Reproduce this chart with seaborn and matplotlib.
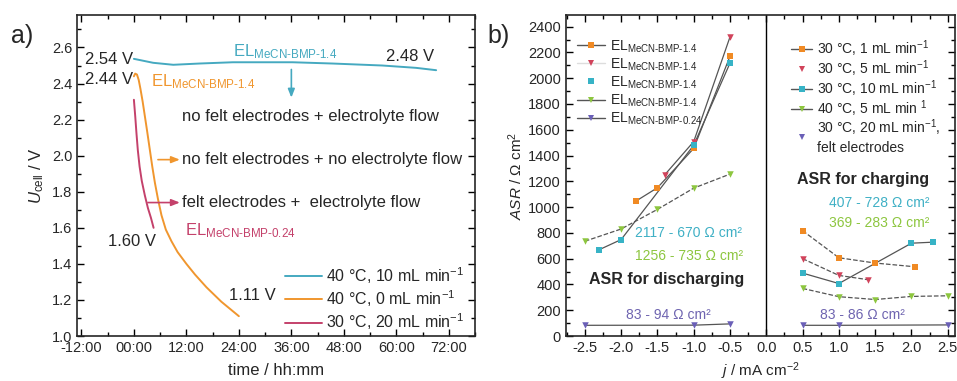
import numpy as np
import pandas as pd
import matplotlib
matplotlib.use("Agg")
import matplotlib.pyplot as plt
from matplotlib.lines import Line2D
from matplotlib.ticker import MultipleLocator, FixedLocator, FixedFormatter
import seaborn as sns

# ---------------- data (a) ----------------
t_cyan = [0, 4.4, 9, 15, 22.6, 36.3, 45.4, 56.8, 64.5, 69.1]
u_cyan = [2.537, 2.515, 2.504, 2.511, 2.518, 2.518, 2.511, 2.50, 2.487, 2.474]
t_orange = [0, 0.3, 0.7, 1.1, 1.5, 2.0, 2.5, 3.0, 3.6, 4.2, 4.8, 5.5, 6.3, 7.3, 8.6, 10, 12, 14, 16.6, 20, 22, 24]
u_orange = [2.44, 2.455, 2.45, 2.42, 2.37, 2.30, 2.22, 2.14, 2.04, 1.94, 1.85, 1.76, 1.67, 1.59, 1.525,
            1.465, 1.40, 1.34, 1.27, 1.19, 1.15, 1.11]
t_mag = [0, 0.3, 0.6, 0.9, 1.3, 1.8, 2.5, 3.2, 3.9, 4.5]
u_mag = [2.31, 2.22, 2.12, 2.03, 1.94, 1.86, 1.78, 1.71, 1.655, 1.60]
time_ticks = [-12, 0, 12, 24, 36, 48, 60, 72]
time_labels = ["-12:00", "00:00", "12:00", "24:00", "36:00", "48:00", "60:00", "72:00"]
legend_a = ["40 °C, 10 mL min$^{-1}$", "40 °C, 0 mL min$^{-1}$", "30 °C, 20 mL min$^{-1}$"]

# ---------------- data (b) ----------------
j_or_d = [-1.8, -1.5, -1.0, -0.5]; a_or_d = [1045, 1150, 1455, 2170]
j_or_c = [0.5, 1.0, 1.5, 2.05];   a_or_c = [817, 607, 566, 537]
j_rd_d = [-1.4, -1.0, -0.5];      a_rd_d = [1250, 1508, 2320]
j_rd_c = [0.5, 1.0, 1.4];         a_rd_c = [600, 470, 437]
j_cy_d = [-2.3, -2.0, -1.0, -0.5]; a_cy_d = [670, 748, 1480, 2117]
j_cy_c = [0.5, 1.0, 2.0, 2.3];     a_cy_c = [488, 407, 720, 728]
j_gr_d = [-2.5, -2.0, -1.5, -1.0, -0.5]; a_gr_d = [735, 830, 982, 1147, 1256]
j_gr_c = [0.5, 1.0, 1.5, 2.0, 2.5];      a_gr_c = [369, 305, 283, 307, 312]
j_pu_d = [-2.5, -1.0, -0.5]; a_pu_d = [83, 84, 94]
j_pu_c = [0.5, 1.0, 2.5];    a_pu_c = [83, 83, 86]
legend_b1 = ["EL$_{\\mathrm{MeCN‐BMP‐1.4}}$"] * 4 + ["EL$_{\\mathrm{MeCN‐BMP‐0.24}}$"]
legend_b2 = ["30 °C, 1 mL min$^{-1}$", "30 °C, 5 mL min$^{-1}$", "30 °C, 10 mL min$^{-1}$",
             "40 °C, 5 mL min $^{1}$", "30 °C, 20 mL min$^{-1}$,\nfelt electrodes"]

# ---------------- style ----------------
sns.set_style("ticks")
plt.rcParams["font.family"] = ["Liberation Sans", "DejaVu Sans"]
plt.rcParams["mathtext.fontset"] = "custom"
plt.rcParams["mathtext.rm"] = "Liberation Sans"
plt.rcParams["mathtext.it"] = "Liberation Sans:italic"
plt.rcParams["mathtext.bf"] = "Liberation Sans:bold"
plt.rcParams["axes.linewidth"] = 1.2

C_CY = "#45a9c0"; C_OR = "#f0962e"; C_MG = "#c4416b"
R_OR = "#f08a24"; R_RD = "#d1435b"; R_CY = "#37b3c6"; R_GR = "#8dc63f"; R_PU = "#6a5fb7"
GREY = "#555555"

fig = plt.figure(figsize=(9.57, 3.81), dpi=100)
axA = fig.add_axes([0.0805, 0.1181, 0.4159, 0.8425])
axB = fig.add_axes([0.5914, 0.1181, 0.4065, 0.8425])

# ---------------- panel a ----------------
sns.lineplot(x=t_cyan, y=u_cyan, ax=axA, color=C_CY, lw=1.4)
sns.lineplot(x=t_orange, y=u_orange, ax=axA, color=C_OR, lw=1.4)
sns.lineplot(x=t_mag, y=u_mag, ax=axA, color=C_MG, lw=1.4)
axA.set_xlim(-13, 78)
axA.set_ylim(1.0, 2.78)
axA.xaxis.set_major_locator(FixedLocator(time_ticks))
axA.xaxis.set_major_formatter(FixedFormatter(time_labels))
axA.xaxis.set_minor_locator(MultipleLocator(6))
axA.yaxis.set_major_locator(MultipleLocator(0.2))
axA.yaxis.set_minor_locator(MultipleLocator(0.1))
axA.yaxis.set_major_formatter(matplotlib.ticker.FormatStrFormatter("%.1f"))
for ax in (axA, axB):
    ax.tick_params(which="both", direction="in", top=True, right=True, labelsize=10.5, width=1.0,
                   color="black")
    ax.tick_params(which="major", length=5)
    ax.tick_params(which="minor", length=3)
axA.set_xlabel("time / hh:mm", fontsize=12, labelpad=6)
axA.set_ylabel("$U_{\\mathrm{cell}}$ / V", fontsize=12, labelpad=4)

axA.text(-0.2, 2.535, "2.54 V", ha="right", va="center", fontsize=12)
axA.text(-0.2, 2.425, "2.44 V", ha="right", va="center", fontsize=12)
axA.text(68.7, 2.55, "2.48 V", ha="right", va="center", fontsize=12)
axA.text(22.6, 2.552, "EL$_{\\mathrm{MeCN‐BMP‐1.4}}$", color=C_CY, ha="left", va="baseline", fontsize=12)
axA.text(4.0, 2.382, "EL$_{\\mathrm{MeCN‐BMP‐1.4}}$", color=C_OR, ha="left", va="baseline", fontsize=12)
axA.text(11.6, 1.561, "EL$_{\\mathrm{MeCN‐BMP‐0.24}}$", color=C_MG, ha="left", va="baseline", fontsize=12)
axA.text(11.0, 2.218, "no felt electrodes + electrolyte flow", ha="left", va="center", fontsize=12)
axA.text(11.0, 1.978, "no felt electrodes + no electrolyte flow", ha="left", va="center", fontsize=12)
axA.text(11.0, 1.74, "felt electrodes +  electrolyte flow", ha="left", va="center", fontsize=12)
axA.text(-0.35, 1.525, "1.60 V", ha="center", va="center", fontsize=12)
axA.text(27.2, 1.224, "1.11 V", ha="center", va="center", fontsize=12)
ap = dict(arrowstyle="-|>,head_length=0.5,head_width=0.2", lw=1.2, shrinkA=0, shrinkB=0)
axA.annotate("", xy=(36.0, 2.322), xytext=(36.0, 2.478), arrowprops=dict(ap, color=C_CY))
axA.annotate("", xy=(10.5, 1.978), xytext=(5.5, 1.978), arrowprops=dict(ap, color=C_OR))
axA.annotate("", xy=(10.5, 1.74), xytext=(3.2, 1.74), arrowprops=dict(ap, color=C_MG))

hA = [Line2D([], [], color=c, lw=1.4) for c in (C_CY, C_OR, C_MG)]
axA.legend(hA, legend_a, loc="lower right", bbox_to_anchor=(0.99, -0.008), frameon=False,
           fontsize=11.5, handlelength=2.3, handletextpad=0.3, labelspacing=0.15, borderaxespad=0)

# ---------------- panel b ----------------
series = [
    (j_or_d, a_or_d, j_or_c, a_or_c, R_OR, "s", "-", "--"),
    (j_rd_d, a_rd_d, j_rd_c, a_rd_c, R_RD, "v", "-", "--"),
    (j_cy_d, a_cy_d, j_cy_c, a_cy_c, R_CY, "s", "-", "-"),
    (j_gr_d, a_gr_d, j_gr_c, a_gr_c, R_GR, "v", "--", "--"),
    (j_pu_d, a_pu_d, j_pu_c, a_pu_c, R_PU, "v", "-", "-"),
]
for jd, ad, jc, ac, col, mk, lsd, lsc in series:
    for jj, aa, ls in ((jd, ad, lsd), (jc, ac, lsc)):
        sns.lineplot(x=jj, y=aa, ax=axB, color=GREY, lw=0.9, linestyle=ls, sort=False)
        sns.scatterplot(x=jj, y=aa, ax=axB, color=col, marker=mk, s=22, linewidth=0, zorder=3)
axB.axvline(0, color="black", lw=1.0)
axB.set_xlim(-2.76, 2.6)
axB.set_ylim(0, 2490)
axB.xaxis.set_major_locator(MultipleLocator(0.5))
axB.xaxis.set_minor_locator(MultipleLocator(0.25))
axB.xaxis.set_major_formatter(matplotlib.ticker.FormatStrFormatter("%.1f"))
axB.yaxis.set_major_locator(MultipleLocator(200))
axB.yaxis.set_minor_locator(MultipleLocator(100))
axB.set_xlabel("$j$ / mA cm$^{-2}$", fontsize=11, labelpad=4)
axB.set_ylabel("$ASR$ / Ω cm$^{2}$", fontsize=11, labelpad=2)

T_CY = "#3fb0c5"; T_GR = "#8dc63f"; T_PU = "#6e64b0"
axB.text(1.34, 1211, "ASR for charging", ha="center", va="center", fontsize=11.5, fontweight="bold")
axB.text(1.56, 1035, "407 - 728 Ω cm²", ha="center", va="center", fontsize=10, color=T_CY)
axB.text(1.56, 875, "369 - 283 Ω cm²", ha="center", va="center", fontsize=10, color=T_GR)
axB.text(-1.065, 797, "2117 - 670 Ω cm²", ha="center", va="center", fontsize=10, color=T_CY)
axB.text(-1.06, 621, "1256 - 735 Ω cm²", ha="center", va="center", fontsize=10, color=T_GR)
axB.text(-1.38, 442, "ASR for discharging", ha="center", va="center", fontsize=11.5, fontweight="bold")
axB.text(-1.35, 163, "83 - 94 Ω cm²", ha="center", va="center", fontsize=10, color=T_PU)
axB.text(1.32, 163, "83 - 86 Ω cm²", ha="center", va="center", fontsize=10, color=T_PU)

cols = [R_OR, R_RD, R_CY, R_GR, R_PU]
mks = ["s", "v", "s", "v", "v"]
l1 = [GREY, "#dddddd", "none", GREY, GREY]
h1 = [Line2D([], [], color=lc, lw=1.0, marker=m, markerfacecolor=c, markeredgewidth=0, markersize=5)
      for lc, m, c in zip(l1, mks, cols)]
axB.legend(h1, legend_b1, loc="upper left", bbox_to_anchor=(0.015, 0.945), frameon=False,
           fontsize=10, handlelength=2.0, handletextpad=0.35, labelspacing=0.12, borderaxespad=0)
l2 = [GREY, "none", GREY, GREY, "none"]
h2 = [Line2D([], [], color=lc, lw=1.0, marker=m, markerfacecolor=c, markeredgewidth=0, markersize=4)
      for lc, m, c in zip(l2, mks, cols)]
leg1 = axB.get_legend()
axB.add_artist(leg1)
axB.legend(h2, legend_b2, loc="upper left", bbox_to_anchor=(0.565, 0.945), frameon=False,
           fontsize=10, handlelength=1.5, handletextpad=0.35, labelspacing=-0.05, borderaxespad=0)

fig.text(0.012, 0.905, "a)", fontsize=18, va="center")
fig.text(0.509, 0.905, "b)", fontsize=18, va="center")

fig.savefig("out.png", dpi=100)
